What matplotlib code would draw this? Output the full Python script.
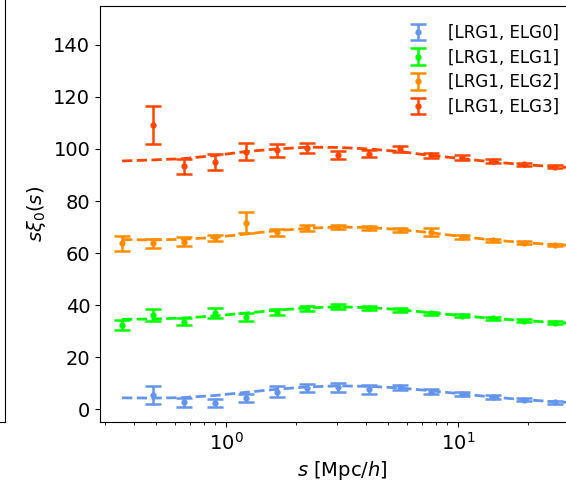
import numpy as np
import matplotlib.pyplot as plt

# separaciones (centros de bin) en Mpc/h
s = [0.356, 0.484, 0.657, 0.893, 1.214, 1.650, 2.242, 3.047,
     4.141, 5.628, 7.648, 10.39, 14.12, 19.19, 26.08]
# rejilla del modelo (se alarga un poco mas alla del ultimo bin)
s_model = s + [36.0]

labels = ["[LRG1, ELG0]", "[LRG1, ELG1]", "[LRG1, ELG2]", "[LRG1, ELG3]"]
colors = ["cornflowerblue", "lime", "darkorange", "orangered"]

# medidas s*xi_0 (None = sin dato) y errores
xi0 = [None, 5.4, 2.6, 2.4, 4.1, 6.7, 8.0, 8.3, 7.6, 8.3, 6.7, 5.8, 4.5, 3.5, 2.6]
xi1 = [32.3, 36.2, 33.6, 37.0, 35.5, 37.4, 38.7, 39.3, 38.7, 38.1, 36.8, 35.9, 34.9, 34.0, 33.2]
xi2 = [63.7, 63.7, 64.4, 65.8, 71.7, 68.0, 69.6, 70.0, 69.7, 68.8, 68.2, 66.2, 64.9, 64.0, 63.1]
xi3 = [None, 109.2, 93.3, 95.1, 99.0, 99.6, 100.3, 97.6, 98.2, 100.0, 97.6, 96.7, 95.5, 94.1, 93.1]

err0 = [None, 3.5, 1.7, 1.5, 1.5, 2.0, 1.5, 1.6, 1.8, 1.0, 0.9, 0.8, 0.7, 0.6, 0.5]
err1 = [2.0, 2.2, 1.4, 2.0, 1.5, 1.2, 1.0, 0.9, 0.8, 0.8, 0.7, 0.6, 0.6, 0.5, 0.5]
err2 = [3.0, 1.8, 1.8, 1.2, 4.0, 1.3, 1.0, 0.9, 0.8, 0.8, 1.5, 0.7, 0.6, 0.5, 0.5]
err3 = [None, 7.3, 3.0, 3.0, 3.2, 2.5, 2.0, 1.5, 1.3, 1.2, 1.0, 1.0, 0.8, 0.7, 0.6]

# modelos (lineas discontinuas)
mod0 = [4.3, 4.2, 4.4, 5.2, 6.4, 7.6, 8.5, 8.9, 8.7, 8.1, 7.0, 5.8, 4.6, 3.6, 2.8, 2.2]
mod1 = [34.5, 34.6, 35.0, 35.8, 36.9, 38.0, 38.9, 39.3, 39.0, 38.2, 37.0, 35.9, 34.8, 34.0, 33.3, 32.7]
mod2 = [65.2, 65.0, 65.3, 66.0, 67.3, 68.6, 69.5, 70.0, 69.8, 69.0, 67.8, 66.3, 65.0, 64.0, 63.2, 62.6]
mod3 = [95.4, 95.8, 96.3, 97.5, 99.0, 100.0, 100.7, 100.6, 100.0, 99.0, 97.5, 96.3, 95.0, 94.0, 93.2, 92.5]

data = [xi0, xi1, xi2, xi3]
errs = [err0, err1, err2, err3]
models = [mod0, mod1, mod2, mod3]

fig = plt.figure(figsize=(5.66, 4.91), dpi=100)

# borde del panel vecino (cortado)
ax0 = fig.add_axes([-0.5, 0.1405, 0.5088, 0.95])
ax0.set_xticks([])
ax0.set_yticks([])

ax = fig.add_axes([0.1767, 0.1405, 0.858, 0.8473])
for d, e, m, c, lab in zip(data, errs, models, colors, labels):
    ax.plot(s_model, m, "--", color=c, lw=2)
    xs = [x for x, v in zip(s, d) if v is not None]
    ys = [v for v in d if v is not None]
    es = [v for v in e if v is not None]
    ax.errorbar(xs, ys, yerr=es, fmt="o", color=c, ms=3.5, capsize=6,
                elinewidth=1.8, capthick=1.8, label=lab)

ax.set_xscale("log")
ax.set_xlim(0.286, 10**1.55)
ax.set_ylim(-5, 155)
ax.set_yticks(range(0, 141, 20))
ax.tick_params(labelsize=14)
ax.set_xlabel("$s$ [Mpc/$h$]", fontsize=14)
ax.set_ylabel(r"$s\xi_0(s)$", fontsize=14)
ax.legend(loc="upper right", bbox_to_anchor=(1.005, 0.972),
          bbox_transform=fig.transFigure, frameon=False, fontsize=12,
          handletextpad=0.8, labelspacing=0.4, borderaxespad=0.2)

fig.savefig("out.png", dpi=100)
